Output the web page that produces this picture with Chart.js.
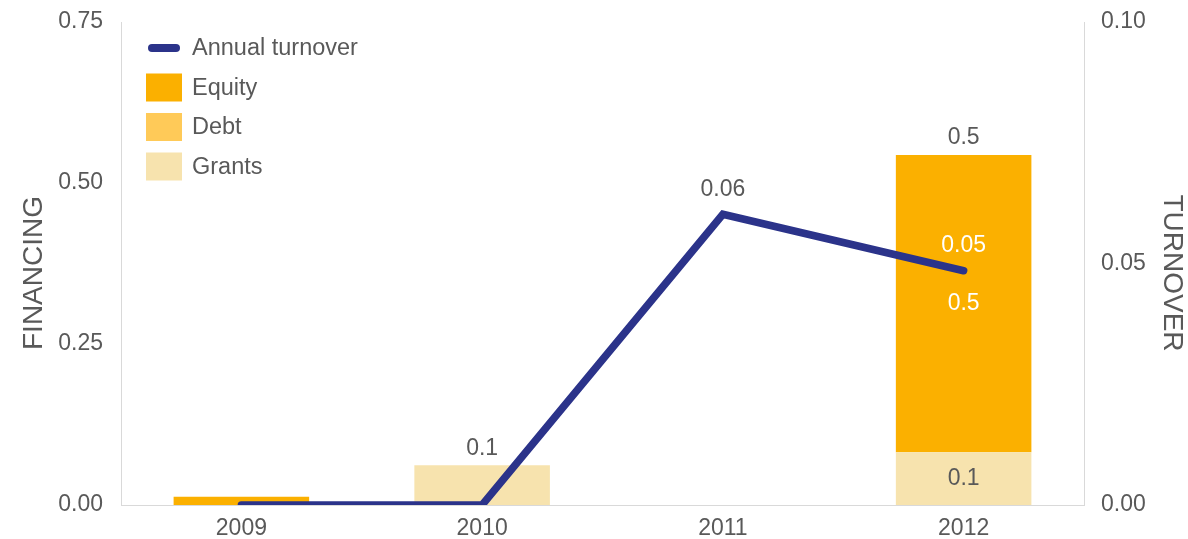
<!DOCTYPE html>
<html>
<head>
<meta charset="utf-8">
<title>Financing and turnover</title>
<script src="https://cdn.jsdelivr.net/npm/chart.js@4.4.1/dist/chart.umd.min.js"></script>
<style>
  html, body { margin: 0; padding: 0; background: #ffffff; }
  #wrap { width: 1188px; height: 539px; position: relative; }
</style>
</head>
<body>
<div id="wrap"><canvas id="chart"></canvas></div>
<script>
// ---- data ----
const years = ['2009', '2010', '2011', '2012'];
const grants = [0, 0.0616, 0, 0.0818];
const debt = [0, 0, 0, 0];
const equity = [0.0129, 0, 0, 0.4617];
const turnover = [0, 0, 0.0602, 0.0485];
const financingTicks = [0, 0.25, 0.5, 0.75];
const turnoverTicks = [0, 0.05, 0.10];

// ---- styling ----
const FONT = "'Liberation Sans', Arial, Helvetica, sans-serif";
const TEXT = '#595959';
const AXIS = '#d9d9d9';
const C_LINE = '#2b338a';
const C_EQUITY = '#fbb000';
const C_DEBT = '#ffca58';
const C_GRANTS = '#f7e3ae';

// Legend drawn in the upper-left corner of the plot area
const cornerLegend = {
  id: 'cornerLegend',
  afterDraw(chart) {
    const ctx = chart.ctx;
    const items = [
      { label: 'Annual turnover', color: C_LINE, line: true, y: 48 },
      { label: 'Equity', color: C_EQUITY, y: 87.5 },
      { label: 'Debt', color: C_DEBT, y: 127 },
      { label: 'Grants', color: C_GRANTS, y: 166.5 }
    ];
    ctx.save();
    ctx.font = '23.5px ' + FONT;
    ctx.textAlign = 'left';
    ctx.textBaseline = 'middle';
    items.forEach(it => {
      if (it.line) {
        ctx.strokeStyle = it.color;
        ctx.lineWidth = 8;
        ctx.lineCap = 'round';
        ctx.beginPath();
        ctx.moveTo(152, it.y);
        ctx.lineTo(176, it.y);
        ctx.stroke();
      } else {
        ctx.fillStyle = it.color;
        ctx.fillRect(146, it.y - 14, 36, 28);
      }
      ctx.fillStyle = TEXT;
      ctx.fillText(it.label, 192, it.y + 1);
    });
    ctx.restore();
  }
};

// Rotated axis titles
const axisTitles = {
  id: 'axisTitles',
  afterDraw(chart) {
    const ctx = chart.ctx;
    ctx.save();
    ctx.font = '28px ' + FONT;
    ctx.fillStyle = TEXT;
    ctx.textAlign = 'center';
    ctx.textBaseline = 'middle';
    ctx.save();
    ctx.translate(34, 273);
    ctx.rotate(-Math.PI / 2);
    ctx.fillText('FINANCING', 0, 0);
    ctx.restore();
    ctx.save();
    ctx.translate(1172, 273);
    ctx.rotate(Math.PI / 2);
    ctx.fillText('TURNOVER', 0, 0);
    ctx.restore();
    ctx.restore();
  }
};

// Value labels for bar segments, stack totals and turnover points
const valueLabels = {
  id: 'valueLabels',
  afterDatasetsDraw(chart) {
    const ctx = chart.ctx;
    const ys = chart.scales.y;
    ctx.save();
    ctx.font = '23px ' + FONT;
    ctx.textAlign = 'center';
    ctx.textBaseline = 'middle';

    // segments large enough to hold a label
    [1, 2, 3].forEach(di => {
      const meta = chart.getDatasetMeta(di);
      meta.data.forEach((el, i) => {
        const v = chart.data.datasets[di].data[i];
        const h = Math.abs(el.base - el.y);
        if (!v || h < 45) return;
        ctx.fillStyle = di === 3 ? '#ffffff' : TEXT;
        ctx.fillText(v.toFixed(1), el.x, (el.y + el.base) / 2);
      });
    });

    // stack totals above each bar
    years.forEach((_, i) => {
      const tot = grants[i] + debt[i] + equity[i];
      if (Math.round(tot * 10) === 0) return;
      const x = chart.getDatasetMeta(1).data[i].x;
      ctx.fillStyle = TEXT;
      ctx.fillText(tot.toFixed(1), x, ys.getPixelForValue(tot) - 17);
    });

    // turnover labels
    const lineMeta = chart.getDatasetMeta(0);
    const eqMeta = chart.getDatasetMeta(3);
    lineMeta.data.forEach((pt, i) => {
      const v = turnover[i];
      if (!v) return;
      const bar = eqMeta.data[i];
      const ly = pt.y - 25;
      const inside = bar && Math.abs(pt.x - bar.x) < bar.width / 2 &&
        ly > Math.min(bar.y, bar.base) && ly < Math.max(bar.y, bar.base);
      ctx.fillStyle = inside ? '#ffffff' : TEXT;
      ctx.fillText(v.toFixed(2), pt.x, ly);
    });
    ctx.restore();
  }
};

const tickFont = { family: FONT, size: 23 };

// fixed scale boxes so the plot area sits at a known place
function fixVertical(width) {
  return function (s) {
    s.width = width;
    s.paddingTop = 0;
    s.paddingBottom = 0;
  };
}

new Chart(document.getElementById('chart'), {
  data: {
    labels: years,
    datasets: [
      {
        type: 'line', label: 'Annual turnover', data: turnover, yAxisID: 'y1',
        borderColor: C_LINE, borderWidth: 7.5, borderCapStyle: 'round',
        borderJoinStyle: 'miter', pointRadius: 0, tension: 0, order: 0, fill: false
      },
      { type: 'bar', label: 'Grants', data: grants, backgroundColor: C_GRANTS, yAxisID: 'y', order: 1 },
      { type: 'bar', label: 'Debt', data: debt, backgroundColor: C_DEBT, yAxisID: 'y', order: 1 },
      { type: 'bar', label: 'Equity', data: equity, backgroundColor: C_EQUITY, yAxisID: 'y', order: 1 }
    ]
  },
  options: {
    responsive: true,
    maintainAspectRatio: false,
    animation: false,
    devicePixelRatio: 1,
    layout: { padding: { top: 22, left: 0, right: 0, bottom: 0 } },
    datasets: { bar: { barPercentage: 1, categoryPercentage: 0.563 } },
    plugins: { legend: { display: false }, tooltip: { enabled: false } },
    scales: {
      x: {
        stacked: true,
        offset: true,
        grid: { display: false, drawTicks: false },
        border: { display: true, color: AXIS, width: 1 },
        ticks: { color: TEXT, font: tickFont, padding: 10, maxRotation: 0 },
        afterFit(s) { s.height = 34; s.paddingLeft = 0; s.paddingRight = 0; }
      },
      y: {
        stacked: true,
        position: 'left',
        min: 0, max: 0.75,
        afterBuildTicks(s) { s.ticks = financingTicks.map(v => ({ value: v })); },
        grid: { display: false, drawTicks: false },
        border: { display: true, color: AXIS, width: 1 },
        ticks: { color: TEXT, font: tickFont, padding: 18, callback: v => Number(v).toFixed(2) },
        afterFit: fixVertical(121)
      },
      y1: {
        position: 'right',
        min: 0, max: 0.10,
        afterBuildTicks(s) { s.ticks = turnoverTicks.map(v => ({ value: v })); },
        grid: { display: false, drawTicks: false },
        border: { display: true, color: AXIS, width: 1 },
        ticks: { color: TEXT, font: tickFont, padding: 17, callback: v => Number(v).toFixed(2) },
        afterFit: fixVertical(104)
      }
    }
  },
  plugins: [valueLabels, cornerLegend, axisTitles]
});
</script>
</body>
</html>
